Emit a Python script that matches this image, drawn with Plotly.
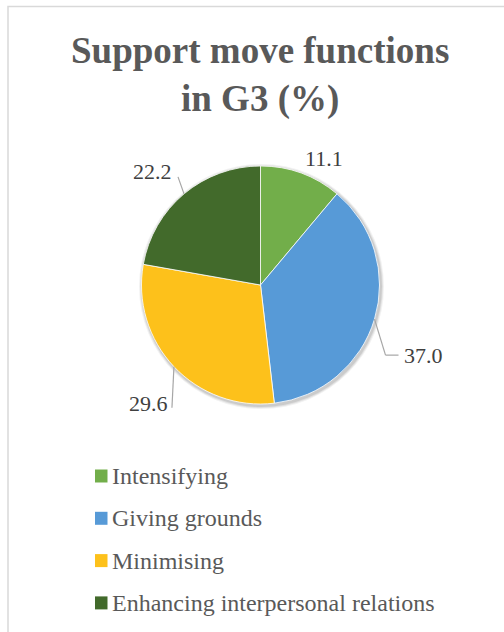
import math
import plotly.graph_objects as go

# Chart data
categories = ["Intensifying", "Giving grounds", "Minimising", "Enhancing interpersonal relations"]
values = [11.1, 37.0, 29.6, 22.2]
colors = ["#72AE4A", "#579AD7", "#FDC11B", "#426A2B"]

W, H = 504, 632
CX, CY, R = 260.5, 285, 119  # pie centre and radius in pixels

FONT = "Liberation Serif"


def px(x):
    return x / W


def py(y):
    return 1 - y / H


fig = go.Figure()
fig.add_trace(go.Pie(
    labels=categories,
    values=values,
    marker=dict(colors=colors, line=dict(color="white", width=0.8)),
    sort=False,
    direction="clockwise",
    rotation=0,
    textinfo="none",
    hoverinfo="label+value",
    showlegend=False,
    domain=dict(x=[px(CX - R), px(CX + R)], y=[py(CY + R), py(CY - R)]),
))

shapes = []
annotations = []

# Soft drop shadow under the pie
for grow, alpha in [(3.5, 0.05), (2.5, 0.07), (1.5, 0.09)]:
    shapes.append(dict(type="circle", xref="paper", yref="paper", layer="below",
                       x0=px(CX - R - grow + 1), x1=px(CX + R + grow + 1),
                       y0=py(CY + R + grow + 1.5), y1=py(CY - R - grow + 1.5),
                       fillcolor=f"rgba(0,0,0,{alpha})", line=dict(width=0)))

# Data labels with leader lines, placed from each slice's mid-angle
# (leader path offsets relative to the slice edge point, text anchor offset, anchor side)
label_layout = [
    dict(path=[], text=(23, -15), anchor="center"),
    dict(path=[(11, 36), (24, 36)], text=(27, 36), anchor="left"),
    dict(path=[(-2, 41)], text=(-4, 37), anchor="right"),
    dict(path=[(-6, -17)], text=(-10, -22), anchor="right"),
]

total = sum(values)
cum = 0.0
for v, lay in zip(values, label_layout):
    mid = (cum + v / 2) / total * 2 * math.pi
    cum += v
    ex = CX + R * math.sin(mid)
    ey = CY - R * math.cos(mid)
    pts = [(ex, ey)] + [(ex + dx, ey + dy) for dx, dy in lay["path"]]
    for (x0, y0), (x1, y1) in zip(pts[:-1], pts[1:]):
        shapes.append(dict(type="line", xref="paper", yref="paper",
                           x0=px(x0), y0=py(y0), x1=px(x1), y1=py(y1),
                           line=dict(color="#A6A6A6", width=1.2)))
    tx, ty = ex + lay["text"][0], ey + lay["text"][1]
    annotations.append(dict(
        text=f"{v:.1f}", xref="paper", yref="paper", x=px(tx), y=py(ty),
        xanchor=lay["anchor"], yanchor="middle", showarrow=False,
        font=dict(family=FONT, size=22, color="#404040"),
    ))

# Title
annotations.append(dict(
    text="<b>Support move functions<br>in G3 (%)</b>",
    xref="paper", yref="paper", x=px(W / 2 + 8), y=py(75),
    xanchor="center", yanchor="middle", showarrow=False,
    font=dict(family=FONT, size=37, color="#595959"),
))

# Legend: square swatch and name for each category
legend_top, legend_step = 476, 42.3
for i, (name, col) in enumerate(zip(categories, colors)):
    yc = legend_top + i * legend_step
    shapes.append(dict(type="rect", xref="paper", yref="paper",
                       x0=px(95), x1=px(107.5), y0=py(yc - 6.5), y1=py(yc + 6.5),
                       fillcolor=col, line=dict(width=0)))
    annotations.append(dict(
        text=name, xref="paper", yref="paper", x=px(110), y=py(yc),
        xanchor="left", yanchor="middle", showarrow=False,
        font=dict(family=FONT, size=24, color="#595959"),
    ))

# Chart area border
shapes.append(dict(type="rect", xref="paper", yref="paper",
                   x0=px(8), x1=px(W + 10), y0=py(H + 10), y1=py(6.5),
                   line=dict(color="#D9D9D9", width=1.5)))

fig.update_layout(
    width=W, height=H,
    margin=dict(l=0, r=0, t=0, b=0),
    paper_bgcolor="white",
    plot_bgcolor="white",
    font=dict(family=FONT),
    shapes=shapes,
    annotations=annotations,
)

fig.write_html("out.html")
